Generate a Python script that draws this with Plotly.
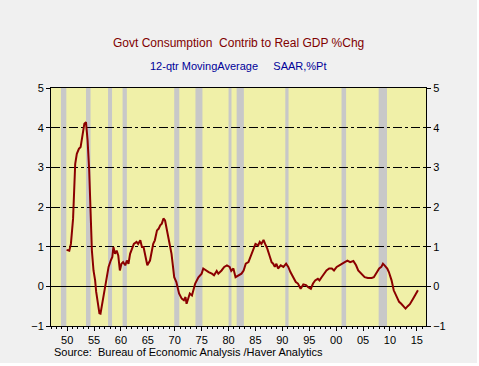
import plotly.graph_objects as go

years = [1949.9,1950.4,1950.7,1951.1,1951.5,1951.8,1952.2,1952.5,1952.8,1953.2,1953.5,1953.8,1954.1,1954.4,1954.6,1954.9,1955.2,1955.4,1955.7,1956.0,1956.2,1956.4,1956.9,1957.3,1957.7,1958.1,1958.4,1958.6,1958.9,1959.2,1959.5,1959.8,1960.1,1960.4,1960.8,1961.1,1961.4,1961.7,1962.0,1962.4,1962.9,1963.2,1963.6,1963.9,1964.2,1964.5,1964.9,1965.4,1965.7,1966.0,1966.3,1966.7,1967.0,1967.3,1967.6,1967.9,1968.2,1968.5,1969.0,1969.4,1969.9,1970.3,1970.8,1971.3,1971.7,1972.0,1972.2,1972.8,1973.2,1973.8,1974.4,1975.0,1975.3,1975.8,1976.3,1976.9,1977.3,1977.8,1978.1,1978.7,1979.2,1979.7,1980.2,1980.5,1980.9,1981.3,1981.8,1982.4,1982.8,1983.2,1983.7,1984.1,1984.6,1985.0,1985.5,1985.8,1986.1,1986.5,1986.8,1987.2,1987.7,1988.0,1988.3,1988.6,1988.9,1989.2,1989.7,1990.2,1990.7,1991.1,1991.5,1992.0,1992.5,1992.9,1993.4,1993.9,1994.4,1994.8,1995.3,1995.7,1996.1,1996.6,1996.9,1997.3,1997.8,1998.2,1998.7,1999.2,1999.6,2000.1,2000.6,2001.0,2001.6,2002.1,2002.6,2003.2,2003.7,2004.1,2004.7,2005.3,2005.9,2006.6,2007.0,2007.5,2008.0,2008.4,2008.7,2009.0,2009.5,2009.8,2010.3,2010.7,2011.2,2011.7,2012.1,2012.5,2012.9,2013.3,2013.7,2014.3,2014.7,2015.2]
values = [0.92,0.90,1.07,1.70,3.09,3.34,3.47,3.51,3.76,4.10,4.14,3.68,2.92,1.83,0.90,0.40,0.15,-0.14,-0.45,-0.68,-0.69,-0.52,-0.10,0.23,0.49,0.65,0.74,0.99,0.82,0.90,0.78,0.40,0.57,0.61,0.53,0.65,0.57,0.82,0.95,1.07,1.12,1.07,1.16,0.99,0.99,0.82,0.53,0.65,0.90,1.07,1.16,1.41,1.45,1.54,1.58,1.71,1.66,1.45,1.16,0.82,0.23,0.11,-0.18,-0.31,-0.35,-0.27,-0.44,-0.18,-0.23,0.07,0.23,0.32,0.45,0.40,0.36,0.32,0.28,0.39,0.32,0.40,0.49,0.53,0.49,0.39,0.45,0.23,0.28,0.32,0.40,0.57,0.61,0.74,0.90,1.07,1.03,1.12,1.07,1.17,1.07,0.95,0.74,0.61,0.57,0.49,0.57,0.45,0.53,0.49,0.57,0.49,0.36,0.23,0.11,0.07,-0.06,0.05,0.03,-0.02,-0.06,0.07,0.15,0.19,0.15,0.23,0.32,0.40,0.45,0.45,0.40,0.49,0.53,0.57,0.61,0.65,0.61,0.64,0.53,0.40,0.32,0.23,0.21,0.21,0.23,0.36,0.45,0.49,0.57,0.53,0.45,0.36,0.15,-0.10,-0.27,-0.39,-0.44,-0.50,-0.56,-0.50,-0.45,-0.31,-0.22,-0.10]

rec_start = [1948.85, 1953.5, 1957.6, 1960.3, 1969.9, 1973.85, 1980.0, 1981.5, 1990.55, 2001.0, 2007.9]
rec_end = [1949.85, 1954.35, 1958.35, 1961.1, 1970.85, 1975.15, 1980.55, 1982.85, 1991.15, 2001.85, 2009.45]

x_tickvals = [1950,1955,1960,1965,1970,1975,1980,1985,1990,1995,2000,2005,2010,2015]
x_ticktext = ["50","55","60","65","70","75","80","85","90","95","00","05","10","15"]
y_tickvals = [-1,0,1,2,3,4,5]

FONT = "Liberation Sans, Arial, sans-serif"
W, H = 477, 363
ML, MR, MT, MB = 51, 51, 88, 37

fig = go.Figure()
fig.add_trace(go.Scatter(x=years, y=values, mode="lines",
                         line=dict(color="#8b0000", width=2), showlegend=False,
                         hoverinfo="skip"))
fig.add_trace(go.Scatter(x=[years[0]], y=[values[0]], yaxis="y2", mode="lines",
                         line=dict(width=0), showlegend=False, hoverinfo="skip"))

shapes = []
for s, e in zip(rec_start, rec_end):
    shapes.append(dict(type="rect", xref="x", yref="paper", x0=s, x1=e, y0=0, y1=1,
                       fillcolor="#c8c8c8", line=dict(width=0), layer="below"))

fig.update_layout(
    width=W, height=H,
    margin=dict(l=ML, r=MR, t=MT, b=MB),
    paper_bgcolor="#f0f0f0",
    plot_bgcolor="#f0f0a8",
    font=dict(family=FONT, size=11, color="black"),
    shapes=shapes,
    xaxis=dict(range=[1947.0, 2016.7], tickvals=x_tickvals, ticktext=x_ticktext,
               ticks="outside", ticklen=4, tickcolor="black", showgrid=False,
               showline=True, linecolor="black", linewidth=1, mirror=True,
               zeroline=False, tickfont=dict(size=11, family=FONT),
               minor=dict(dtick=1, tick0=1950, ticks="outside", ticklen=2,
                          tickcolor="black", showgrid=False)),
    yaxis=dict(range=[-1, 5], tickvals=y_tickvals, ticks="outside", ticklen=4,
               tickcolor="black", showgrid=True, gridcolor="black", gridwidth=1,
               griddash="dashdot", zeroline=True, zerolinecolor="black",
               zerolinewidth=1, showline=True, linecolor="black", linewidth=1,
               mirror=True, tickfont=dict(size=11, family=FONT)),
    yaxis2=dict(range=[-1, 5], tickvals=y_tickvals, overlaying="y", side="right",
                ticks="outside", ticklen=4, tickcolor="black", showgrid=False,
                zeroline=False, showline=False, tickfont=dict(size=11, family=FONT)),
)

pw, ph = W - ML - MR, H - MT - MB
def px(xp):
    return (xp - ML) / pw
def py(yp):
    return (H - MB - yp) / ph

fig.add_annotation(text="Govt Consumption\u00a0 Contrib to Real GDP %Chg", xref="paper", yref="paper",
                   x=px(238), y=py(43), xanchor="center", yanchor="middle", showarrow=False,
                   font=dict(size=12, color="#800000", family=FONT))
fig.add_annotation(text="12-qtr MovingAverage\u00a0\u00a0\u00a0\u00a0 SAAR,%Pt", xref="paper", yref="paper",
                   x=px(238), y=py(66), xanchor="center", yanchor="middle", showarrow=False,
                   font=dict(size=11, color="#000099", family=FONT))
fig.add_annotation(text="Source:\u00a0 Bureau of Economic Analysis /Haver Analytics", xref="paper", yref="paper",
                   x=px(52), y=py(352), xanchor="left", yanchor="middle", showarrow=False,
                   font=dict(size=11, color="black", family=FONT))

fig.write_html("out.html", config={"displayModeBar": False},
               post_script="document.body.style.margin='0';document.body.style.background='white';")
